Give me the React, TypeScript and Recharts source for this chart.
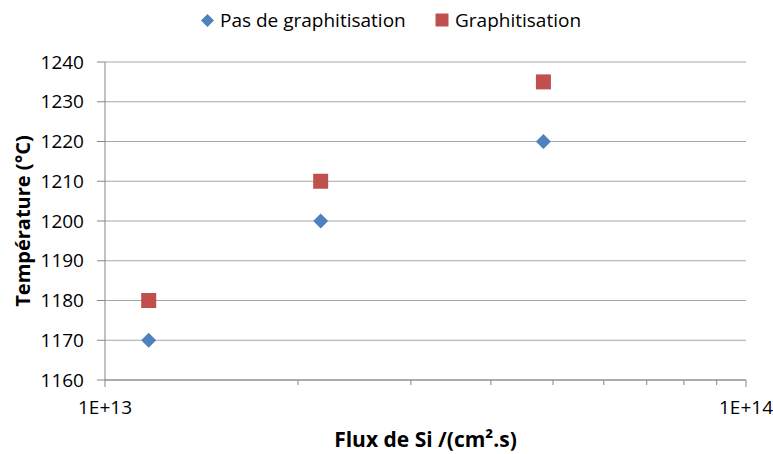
import React from 'react';
import {
  ScatterChart,
  Scatter,
  XAxis,
  YAxis,
  CartesianGrid
} from 'recharts';

const fluxValues = [1.17e13, 2.17e13, 4.83e13];
const tempSansGraphitisation = [1170, 1200, 1220];
const tempGraphitisation = [1180, 1210, 1235];
const yTicks = [1160, 1170, 1180, 1190, 1200, 1210, 1220, 1230, 1240];
const xTicks = [1e13, 2e13, 3e13, 4e13, 5e13, 6e13, 7e13, 8e13, 9e13, 1e14];
const xLabels: Record<number, string> = { 1e13: '1E+13', 1e14: '1E+14' };

const BLUE = '#4F81BD';
const RED = '#C0504D';
const AXIS = '#868686';
const FONT = '"Open Sans", "Noto Sans", sans-serif';

const seriesA = fluxValues.map((x, i) => ({ x, y: tempSansGraphitisation[i] }));
const seriesB = fluxValues.map((x, i) => ({ x, y: tempGraphitisation[i] }));

const Diamond = ({ cx, cy }: any) => (
  <path
    d={`M${cx},${cy - 7.5} L${cx + 7.5},${cy} L${cx},${cy + 7.5} L${cx - 7.5},${cy} Z`}
    fill={BLUE}
  />
);

const Square = ({ cx, cy }: any) => (
  <rect x={cx - 7.5} y={cy - 7.5} width={15} height={15} fill={RED} />
);

const XTick = ({ x, y, payload }: any) => {
  const label = xLabels[payload.value];
  return (
    <g>
      <line x1={x} x2={x} y1={y} y2={y + (label ? 7 : 5)} stroke={AXIS} />
      {label && (
        <text x={x} y={y + 34} textAnchor="middle" fontSize={19} fill="#000">
          {label}
        </text>
      )}
    </g>
  );
};

// legend drawn outside the chart so it doesn't push the plot down
const ChartLegend = () => (
  <div
    style={{
      position  : 'absolute',
      top       : 7,
      left      : 0,
      width     : 773,
      height    : 28,
      fontSize  : 19,
      fontFamily: FONT,
      color     : '#000'
    }}
  >
    <span style={{ position: 'absolute', left: 200, top: 0, display: 'flex', alignItems: 'center' }}>
      <svg width={15} height={15} style={{ marginRight: 5 }}>
        <path d="M7.5,1 L14,7.5 L7.5,14 L1,7.5 Z" fill={BLUE} />
      </svg>
      Pas de graphitisation
    </span>
    <span style={{ position: 'absolute', left: 435, top: 0, display: 'flex', alignItems: 'center' }}>
      <svg width={14} height={14} style={{ marginRight: 6 }}>
        <rect x={0.5} y={0.5} width={13} height={13} fill={RED} />
      </svg>
      Graphitisation
    </span>
  </div>
);

export default function App () {
  return (
    <div style={{ position: 'absolute', left: 0, top: 0, width: 773, height: 454, background: '#fff' }}>
      <ScatterChart
        width={773}
        height={454}
        margin={{ top: 62, right: 27, bottom: 0, left: 0 }}
        style={{ fontFamily: FONT }}
      >
        <CartesianGrid vertical={false} stroke="#A6A6A6" />
        <XAxis
          type="number"
          dataKey="x"
          scale="log"
          domain={[1e13, 1e14]}
          allowDataOverflow
          ticks={xTicks}
          interval={0}
          height={74}
          tickSize={0}
          tickMargin={0}
          tickLine={false}
          stroke={AXIS}
          tick={<XTick />}
          label={({ viewBox }: any) => (
            <text
              x={viewBox.x + viewBox.width / 2}
              y={viewBox.y + 67}
              textAnchor="middle"
              fontSize={21}
              fontWeight="bold"
              fill="#000"
            >
              Flux de Si /(cm².s)
            </text>
          )}
        />
        <YAxis
          type="number"
          dataKey="y"
          domain={[1160, 1240]}
          ticks={yTicks}
          interval={0}
          width={105}
          tickSize={8}
          tickMargin={13}
          stroke={AXIS}
          tick={{ fill: '#000', fontSize: 19 }}
          label={({ viewBox }: any) => {
            const cx = 22;
            const cy = viewBox.y + viewBox.height / 2;
            return (
              <text
                x={cx}
                y={cy}
                transform={`rotate(-90, ${cx}, ${cy})`}
                textAnchor="middle"
                dominantBaseline="central"
                fontSize={20}
                fontWeight="bold"
                fill="#000"
              >
                Température (°C)
              </text>
            );
          }}
        />
        <Scatter
          name="Pas de graphitisation"
          data={seriesA}
          shape={<Diamond />}
          isAnimationActive={false}
        />
        <Scatter
          name="Graphitisation"
          data={seriesB}
          shape={<Square />}
          isAnimationActive={false}
        />
      </ScatterChart>
      <ChartLegend />
    </div>
  );
}
